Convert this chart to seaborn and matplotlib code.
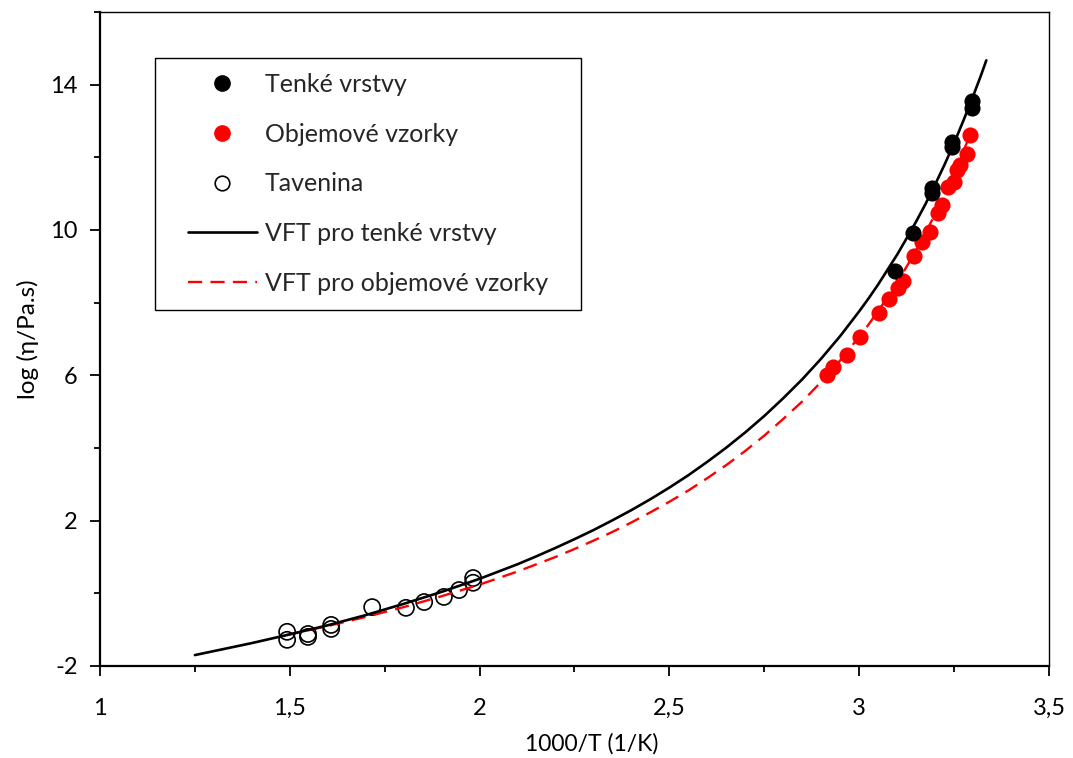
import matplotlib
matplotlib.use("Agg")
import matplotlib.pyplot as plt
from matplotlib.lines import Line2D
from matplotlib.patches import Rectangle
from matplotlib.ticker import MultipleLocator, FixedLocator, FixedFormatter
import seaborn as sns

# Thin films (black filled circles)
thin_x = [3.094, 3.142, 3.192, 3.192, 3.244, 3.244, 3.297, 3.297]
thin_y = [8.87, 9.92, 11.16, 11.02, 12.42, 12.29, 13.55, 13.36]

# Bulk samples (red filled circles)
bulk_x = [2.915, 2.931, 2.968, 3.002, 3.052, 3.079, 3.102, 3.115, 3.144, 3.165,
          3.187, 3.208, 3.218, 3.234, 3.250, 3.258, 3.266, 3.284, 3.292]
bulk_y = [6.01, 6.23, 6.56, 7.06, 7.72, 8.10, 8.40, 8.60, 9.29, 9.67,
          9.95, 10.47, 10.69, 11.18, 11.32, 11.65, 11.79, 12.09, 12.62]

# Melt (open circles)
melt_x = [1.493, 1.493, 1.548, 1.548, 1.609, 1.609, 1.717, 1.806, 1.854,
          1.906, 1.946, 1.983, 1.983]
melt_y = [-1.06, -1.28, -1.12, -1.20, -0.87, -0.98, -0.38, -0.40, -0.24,
          -0.10, 0.09, 0.42, 0.29]

# VFT curve for thin films
vft_thin_x = [1.25, 1.40, 1.50, 1.60, 1.70, 1.80, 1.90, 2.00, 2.05, 2.10,
              2.15, 2.20, 2.25, 2.30, 2.35, 2.40, 2.45, 2.50, 2.55, 2.60,
              2.65, 2.70, 2.75, 2.80, 2.85, 2.90, 2.95, 3.00, 3.025, 3.05,
              3.075, 3.10, 3.125, 3.15, 3.175, 3.20, 3.225, 3.25, 3.275, 3.30,
              3.32, 3.335]
vft_thin_y = [-1.70, -1.37, -1.13, -0.88, -0.60, -0.29, 0.04, 0.40, 0.60, 0.80,
              1.02, 1.25, 1.49, 1.74, 2.01, 2.29, 2.59, 2.91, 3.25, 3.62,
              4.01, 4.43, 4.88, 5.37, 5.89, 6.46, 7.08, 7.76, 8.12, 8.50,
              8.91, 9.32, 9.77, 10.23, 10.72, 11.25, 11.80, 12.39, 13.02, 13.68,
              14.23, 14.67]

# VFT curve for bulk samples
vft_bulk_x = [1.49, 1.60, 1.70, 1.80, 1.90, 2.00, 2.10, 2.20, 2.25, 2.30,
              2.35, 2.40, 2.45, 2.50, 2.55, 2.60, 2.65, 2.70, 2.75, 2.80,
              2.85, 2.90, 2.95, 3.00, 3.025, 3.05, 3.075, 3.10, 3.125, 3.15,
              3.175, 3.20, 3.225, 3.25, 3.27, 3.29]
vft_bulk_y = [-1.15, -0.90, -0.65, -0.38, -0.08, 0.24, 0.60, 1.00, 1.22, 1.45,
              1.69, 1.95, 2.23, 2.52, 2.83, 3.17, 3.53, 3.92, 4.34, 4.80,
              5.28, 5.82, 6.41, 7.06, 7.40, 7.77, 8.16, 8.56, 8.99, 9.44,
              9.92, 10.44, 10.98, 11.56, 12.06, 12.56]

x_ticks = [1.0, 1.5, 2.0, 2.5, 3.0, 3.5]
x_tick_labels = ["1", "1,5", "2", "2,5", "3", "3,5"]
y_ticks = [-2, 2, 6, 10, 14]
y_tick_labels = ["-2", "2", "6", "10", "14"]

legend_labels = ["Tenké vrstvy", "Objemové vzorky", "Tavenina",
                 "VFT pro tenké vrstvy", "VFT pro objemové vzorky"]

RED = "#ff0000"
DASH = (0, (6, 3.5))

sns.set_theme(style="white")
plt.rcParams["font.family"] = ["Lato", "DejaVu Sans"]

fig = plt.figure(figsize=(10.73, 7.58), dpi=100)
ax = fig.add_axes([0.0932, 0.1214, 0.8844, 0.8628])

ms = 135
sns.scatterplot(x=melt_x, y=melt_y, ax=ax, marker="o", s=ms, fc="none",
                ec="black", linewidth=1.2, zorder=2)
sns.scatterplot(x=bulk_x, y=bulk_y, ax=ax, marker="o", s=ms, color=RED,
                ec=RED, linewidth=0, zorder=2)
sns.scatterplot(x=thin_x, y=thin_y, ax=ax, marker="o", s=ms, color="black",
                ec="black", linewidth=0, zorder=3)

sns.lineplot(x=vft_thin_x, y=vft_thin_y, ax=ax, color="black", linewidth=1.9,
             sort=False, estimator=None, zorder=4)
sns.lineplot(x=vft_bulk_x, y=vft_bulk_y, ax=ax, color=RED, linewidth=1.7,
             linestyle=DASH, sort=False, estimator=None, zorder=3)

ax.set_xlim(1, 3.5)
ax.set_ylim(-2, 16)

ax.xaxis.set_major_locator(FixedLocator(x_ticks))
ax.xaxis.set_major_formatter(FixedFormatter(x_tick_labels))
ax.xaxis.set_minor_locator(MultipleLocator(0.25))
ax.yaxis.set_major_locator(FixedLocator(y_ticks))
ax.yaxis.set_major_formatter(FixedFormatter(y_tick_labels))
ax.yaxis.set_minor_locator(FixedLocator([0, 4, 8, 12, 16]))

ax.tick_params(axis="both", which="major", direction="out", length=7, width=1.3,
               color="black", labelsize=17, labelcolor="black",
               bottom=True, left=True)
ax.tick_params(axis="both", which="minor", direction="out", length=4.5, width=1.3,
               color="black", bottom=True, left=True)
ax.tick_params(axis="x", which="major", pad=16)
ax.tick_params(axis="y", which="major", pad=9)

for side in ["left", "bottom"]:
    ax.spines[side].set_color("black")
    ax.spines[side].set_linewidth(1.6)
for side in ["top", "right"]:
    ax.spines[side].set_color("black")
    ax.spines[side].set_linewidth(1.0)

ax.set_xlabel("1000/T (1/K)", fontsize=16.5, color="black")
ax.xaxis.set_label_coords(0.518, -0.103)
ax.set_ylabel("log (η/Pa.s)", fontsize=17.5, color="black", labelpad=8)

handles = [
    Line2D([], [], marker="o", linestyle="none", color="black", markersize=11),
    Line2D([], [], marker="o", linestyle="none", color=RED, markersize=11),
    Line2D([], [], marker="o", linestyle="none", mfc="none", mec="black",
           markersize=10.5, markeredgewidth=1.2),
    Line2D([], [], color="black", linewidth=1.9),
    Line2D([], [], color=RED, linewidth=1.7, linestyle=DASH),
]
leg = ax.legend(handles, legend_labels, loc="upper left",
                bbox_to_anchor=(0.0769, 0.9297), fontsize=18, frameon=False,
                handlelength=2.76, handletextpad=0.32, labelspacing=1.07,
                borderpad=0.6, borderaxespad=0)
leg.set_zorder(6)

# Legend frame with wider side margins than top/bottom
fig.canvas.draw()
bb = leg.get_window_extent()
padx = 18
inv = ax.transAxes.inverted()
(ax0, ay0), (ax1, ay1) = inv.transform([(bb.x0 - padx, bb.y0),
                                        (bb.x1 + padx, bb.y1)])
frame = Rectangle((ax0, ay0), ax1 - ax0, ay1 - ay0, transform=ax.transAxes,
                  facecolor="white", edgecolor="black", linewidth=1.0,
                  zorder=5.5, clip_on=False)
ax.add_patch(frame)

fig.savefig("out.png", dpi=100)
